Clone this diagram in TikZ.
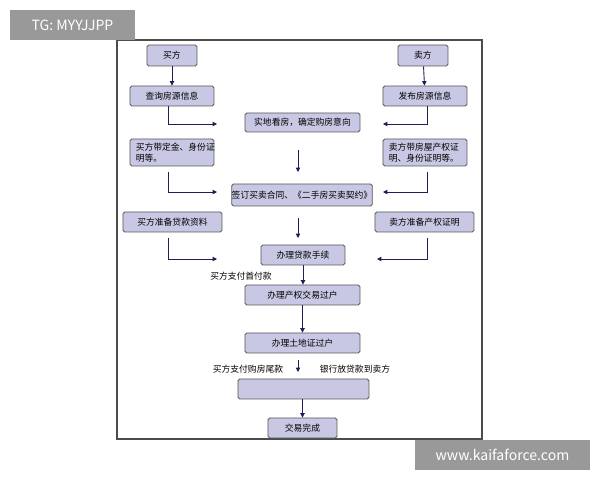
\documentclass[tikz,border=0pt]{standalone}
\usepackage{fontspec}
\setmainfont{Noto Sans CJK SC}
\usetikzlibrary{arrows.meta}
\definecolor{boxfill}{RGB}{200,200,228}
\definecolor{navy}{RGB}{30,30,90}
\begin{document}
\begin{tikzpicture}[x=0.02cm,y=-0.02cm,
  box/.style={draw=black!65,fill=boxfill,rounded corners=1pt,line width=0.5pt,inner sep=0pt,font=\fontsize{5}{6}\selectfont,align=center},
  two/.style={text width=1.45cm,align=left},
  arr/.style={draw=navy,line width=0.5pt,-{Triangle[length=2.5pt,width=2.5pt]}},
  lab/.style={font=\fontsize{5}{6}\selectfont,inner sep=0pt}]
\useasboundingbox (0,0) rectangle (600,480);
\fill[white] (0,0) rectangle (600,480);
\draw[black!70,line width=0.6pt] (117,40) rectangle (482,439);
\def\bx#1#2#3#4#5#6#7{\node[box,#7,minimum width={(#4-#2)*0.02cm},minimum height={(#5-#3)*0.02cm}] (#1) at ({(#2+#4)/2},{(#3+#5)/2}) {#6};}
\bx{buy}{147}{45}{197}{66}{买方}{}
\bx{sell}{398}{45}{448}{66}{卖方}{}
\bx{q}{130}{86}{214}{106}{查询房源信息}{}
\bx{f}{383}{86}{467}{106}{发布房源信息}{}
\bx{s}{245}{113}{360}{132}{实地看房，确定购房意向}{}
\bx{bd}{130}{139}{214}{166}{买方带定金、身份证\\明等。}{two}
\bx{sd}{383}{139}{467}{166}{卖方带房屋产权证\\明、身份证明等。}{two}
\bx{qd}{238}{184}{366}{206}{签订买卖合同、《二手房买卖契约》}{}
\bx{bl}{123}{212}{222}{232}{买方准备贷款资料}{}
\bx{sl}{375}{212}{474}{232}{卖方准备产权证明}{}
\bx{dk}{261}{245}{345}{265}{办理贷款手续}{}
\bx{cq}{245}{285}{360}{305}{办理产权交易过户}{}
\bx{td}{245}{333}{360}{353}{办理土地证过户}{}
\bx{bk}{238}{379}{369}{399}{}{}
\bx{wc}{268}{418}{337}{438}{交易完成}{}
\coordinate (a1) at (217,124); \coordinate (a2) at (383,124);
\coordinate (c1) at (298,150); \coordinate (c2) at (298,172);
\coordinate (b1) at (168,172); \coordinate (b1e) at (217,192);
\coordinate (b2) at (427,172); \coordinate (b2e) at (383,192);
\coordinate (d1) at (298,218); \coordinate (d2) at (298,238);
\coordinate (e1) at (168,238); \coordinate (e1e) at (217,259);
\coordinate (e2) at (427,238); \coordinate (e2e) at (377,259);
\coordinate (g1) at (298,360); \coordinate (g2) at (298,372);
\coordinate (q0) at (168,106); \coordinate (f0) at (427,106);
\draw[arr] (buy) -- (q);
\draw[arr] (sell) -- (f);
\draw[arr] (q0) |- (a1);
\draw[arr] (f0) |- (a2);
\draw[arr] (c1) -- (c2);
\draw[arr] (b1) |- (b1e);
\draw[arr] (b2) |- (b2e);
\draw[arr] (d1) -- (d2);
\draw[arr] (e1) |- (e1e);
\draw[arr] (e2) |- (e2e);
\draw[arr] (dk) -- (dk|-cq.north);
\draw[arr] (cq) -- (cq|-td.north);
\draw[arr] (g1) -- (g2);
\draw[arr] (bk.south-|wc) -- (wc);
\node[lab] (l1) at (241,276) {买方支付首付款};
\node[lab] (l2) at (248,369) {买方支付购房尾款};
\node[lab] (l3) at (355,369) {银行放贷款到卖方};
\node[fill=black!40,text=white,font=\fontsize{8}{9}\selectfont,minimum width=2.5cm,minimum height=0.6cm,inner sep=0pt] (tg) at (72.5,25) {TG: MYYJJPP};
\node[fill=black!40,text=white,font=\fontsize{8}{9}\selectfont,minimum width=3.5cm,minimum height=0.6cm,inner sep=0pt] (www) at (502.5,455) {www.kaifaforce.com};
\end{tikzpicture}
\end{document}
